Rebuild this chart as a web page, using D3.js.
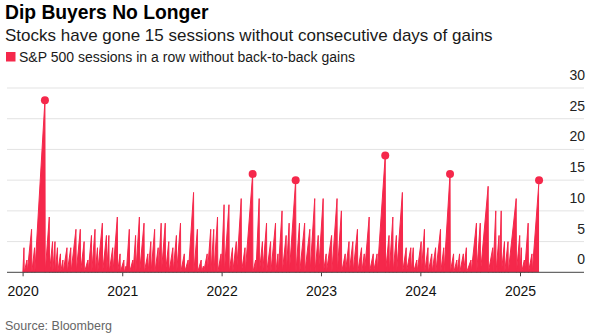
<!DOCTYPE html>
<html>
<head>
<meta charset="utf-8">
<script src="https://cdn.jsdelivr.net/npm/d3@7"></script>
<style>
  body { margin: 0; background: #fff; }
  svg { display: block; font-family: "Liberation Sans", Arial, sans-serif; }
</style>
</head>
<body>
<svg id="chart" width="602" height="336"></svg>
<script>
// Peak of each streak: last session before back-to-back gains, and its length
const runDates = [
  "2020-01-06","2020-01-17","2020-02-03","2020-02-14","2020-03-23","2020-04-08","2020-04-20","2020-04-29",
  "2020-05-08","2020-05-19","2020-05-28","2020-06-12","2020-06-26","2020-07-15","2020-07-31","2020-08-14",
  "2020-08-28","2020-09-10","2020-09-23","2020-10-02","2020-10-20","2020-11-04","2020-11-13","2020-11-27",
  "2020-12-14","2020-12-24","2021-01-07","2021-01-15","2021-01-27","2021-02-09","2021-02-19","2021-03-05",
  "2021-03-22","2021-04-05","2021-04-16","2021-04-30","2021-05-13","2021-05-24","2021-06-08","2021-06-21",
  "2021-07-06","2021-07-19","2021-08-03","2021-08-17","2021-08-31","2021-09-20","2021-10-04","2021-10-18",
  "2021-10-26","2021-11-09","2021-11-22","2021-12-03","2021-12-17","2021-12-30","2022-01-10","2022-01-28",
  "2022-02-10","2022-02-24","2022-03-14","2022-03-28","2022-04-25","2022-05-06","2022-05-19","2022-05-31",
  "2022-06-15","2022-06-30","2022-07-18","2022-07-27","2022-08-11","2022-08-26","2022-09-06","2022-09-30",
  "2022-10-14","2022-11-02","2022-11-21","2022-12-09","2022-12-22","2023-01-09","2023-01-20","2023-02-09",
  "2023-03-01","2023-03-17","2023-03-31","2023-04-14","2023-04-28","2023-05-15","2023-05-30","2023-06-09",
  "2023-06-27","2023-07-12","2023-07-26","2023-08-25","2023-09-08","2023-09-22","2023-10-05","2023-10-27",
  "2023-11-10","2023-11-27","2023-12-06","2023-12-19","2024-01-04","2024-01-16","2024-01-29","2024-02-12",
  "2024-02-26","2024-03-15","2024-03-27","2024-04-19","2024-05-02","2024-05-14","2024-05-24","2024-06-07",
  "2024-06-18","2024-07-05","2024-07-25","2024-08-08","2024-09-06","2024-09-23","2024-10-04","2024-10-16",
  "2024-10-24","2024-11-05","2024-11-18","2024-12-18","2024-12-31","2025-01-06","2025-01-17","2025-01-31",
  "2025-02-14","2025-03-12"
];
const runLengths = [
  4,2,7,4,28,9,5,5,
  4,3,2,4,4,7,7,5,
  2,6,7,4,8,6,6,4,
  9,3,2,1,7,2,6,9,
  8,3,5,7,4,8,8,5,
  4,6,8,3,2,13,7,2,
  1,3,7,7,9,3,11,11,
  4,5,12,4,16,2,12,5,
  8,5,8,3,10,6,8,15,
  8,8,7,12,6,12,3,6,
  12,10,3,5,5,7,4,3,
  9,3,3,19,6,9,6,13,
  4,4,4,2,5,7,4,3,
  4,7,4,16,3,2,3,3,
  4,2,8,8,14,4,10,6,
  10,5,5,12,6,4,2,8,
  3,15
];
const seriesStart = "2020-01-02";
const yearTicks = ["2020","2021","2022","2023","2024","2025"];
const yTicks = [0, 5, 10, 15, 20, 25, 30];
const highlightFrom = 15;

const red = "#f5284b";
const parse = d3.utcParse("%Y-%m-%d");
const svg = d3.select("#chart");

const plotLeft = 7, plotRight = 584, plotTop = 88, plotBottom = 272.3;

const x = d3.scaleUtc()
  .domain([parse("2020-01-01"), parse("2025-01-01")])
  .range([22.6, 520]);
const y = d3.scaleLinear().domain([0, 30]).range([plotBottom, plotTop]);

// Titles
svg.append("text").attr("x", 5).attr("y", 19)
  .attr("font-size", 19.3).attr("font-weight", "bold").attr("fill", "#000")
  .text("Dip Buyers No Longer");
svg.append("text").attr("x", 5).attr("y", 40.5)
  .attr("font-size", 17).attr("fill", "#1a1a1a")
  .text("Stocks have gone 15 sessions without consecutive days of gains");

// Legend
svg.append("rect").attr("x", 6).attr("y", 52).attr("width", 9.5).attr("height", 9.5).attr("fill", red);
svg.append("text").attr("x", 19).attr("y", 62)
  .attr("font-size", 14).attr("fill", "#1a1a1a")
  .text("S&P 500 sessions in a row without back-to-back gains");

// Gridlines and y labels
yTicks.forEach(t => {
  if (t > 0) {
    svg.append("line")
      .attr("x1", plotLeft).attr("x2", plotRight)
      .attr("y1", y(t)).attr("y2", y(t))
      .attr("stroke", "#e3e3e3").attr("stroke-width", 1);
  }
  svg.append("text")
    .attr("x", 585).attr("y", y(t) - 8)
    .attr("text-anchor", "end")
    .attr("font-size", 14).attr("fill", "#222")
    .text(t);
});

// Streak series: climbs to each peak, resets to zero the next session
const points = [{ date: parse(seriesStart), v: 0 }];
runDates.forEach((d, i) => {
  const date = parse(d);
  points.push({ date, v: runLengths[i] });
  if (i < runDates.length - 1) points.push({ date: d3.utcDay.offset(date, 1), v: 0 });
});

const area = d3.area()
  .x(d => x(d.date))
  .y0(plotBottom)
  .y1(d => y(d.v));
const line = d3.line()
  .x(d => x(d.date))
  .y(d => y(d.v));

svg.append("path").datum(points)
  .attr("d", area)
  .attr("fill", red);
svg.append("path").datum(points)
  .attr("d", line)
  .attr("fill", "none")
  .attr("stroke", red)
  .attr("stroke-width", 1)
  .attr("stroke-linejoin", "round");

// Dots on the longest streaks
const peaks = runDates.map((d, i) => ({ date: parse(d), v: runLengths[i] }))
  .filter(p => p.v >= highlightFrom);
svg.selectAll("circle.peak").data(peaks).join("circle")
  .attr("class", "peak")
  .attr("cx", d => x(d.date))
  .attr("cy", d => y(d.v))
  .attr("r", 4)
  .attr("fill", red);

// X axis
svg.append("line")
  .attr("x1", plotLeft).attr("x2", plotRight)
  .attr("y1", plotBottom).attr("y2", plotBottom)
  .attr("stroke", "#444").attr("stroke-width", 1);

const xAxis = d3.axisBottom(x)
  .tickValues(yearTicks.map(t => parse(t + "-01-01")))
  .tickSize(4)
  .tickFormat(d3.utcFormat("%Y"));
const gx = svg.append("g")
  .attr("transform", `translate(0,${plotBottom})`)
  .call(xAxis);
gx.select(".domain").remove();
gx.selectAll("line").attr("stroke", "#444");
gx.selectAll("text")
  .attr("font-family", "Liberation Sans, Arial, sans-serif")
  .attr("font-size", 14).attr("fill", "#111")
  .attr("y", 24).attr("dy", null);

// Source
svg.append("text").attr("x", 5).attr("y", 330)
  .attr("font-size", 12.5).attr("fill", "#666")
  .text("Source: Bloomberg");
</script>
</body>
</html>
